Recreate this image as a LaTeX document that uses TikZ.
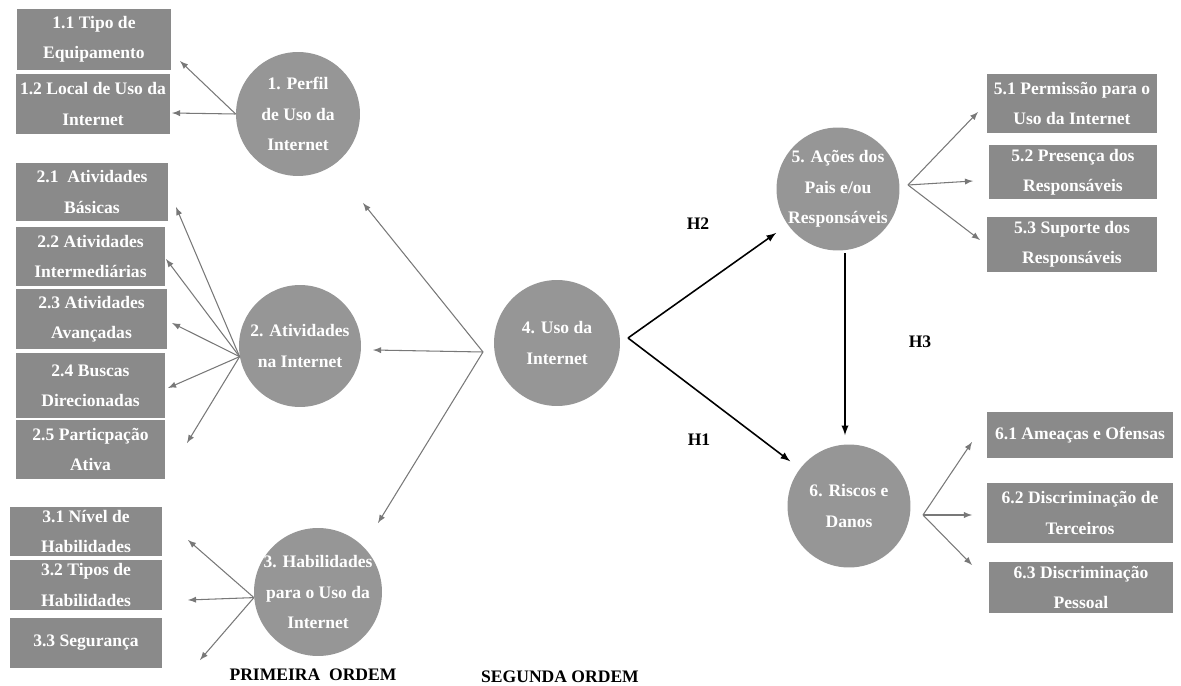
\documentclass[tikz,border=0pt]{standalone}
\usepackage{fontspec}
\setmainfont{Liberation Serif}
\usetikzlibrary{positioning}
\definecolor{boxgray}{RGB}{138,138,138}
\definecolor{bubgray}{RGB}{150,150,150}
\definecolor{arrgray}{RGB}{120,120,120}
\tikzset{every picture/.style={x=0.02cm,y=-0.02cm},
  box/.style={rectangle, fill=boxgray, text=white, inner sep=0pt, align=center,
    font=\bfseries\fontsize{10}{17.3}\selectfont},
  bub/.style={circle, fill=bubgray, inner sep=0pt},
  btxt/.style={text=white, align=center, font=\bfseries\fontsize{10}{17.3}\selectfont},
  sub/.style={arrgray, line width=0.6pt, -latex},
  hyp/.style={black, line width=0.9pt, -latex},
  lab/.style={font=\bfseries\fontsize{10}{12}\selectfont}}
\begin{document}
\begin{tikzpicture}
\useasboundingbox (0,0) rectangle (1181,686);

% first order boxes
\node (b11) [box, minimum width=3.08cm, minimum height=1.22cm] at (94,39.5) {1.1 Tipo de\\Equipamento};
\node (b12) [box, minimum width=3.08cm, minimum height=1.2cm] at (93,104) {1.2 Local de Uso da\\Internet};
\node (b21) [box, minimum width=3.04cm, minimum height=1.16cm] at (92,192) {2.1\ \ Atividades\\B\'asicas};
\node (b22) [box, minimum width=2.98cm, minimum height=1.18cm] at (90.5,256.5) {2.2 Atividades\\Intermedi\'arias};
\node (b23) [box, minimum width=3.02cm, minimum height=1.2cm] at (91.5,319) {2.3 Atividades\\Avan\c{c}adas};
\node (b24) [box, minimum width=2.98cm, minimum height=1.3cm] at (90.5,385.5) {2.4 Buscas\\Direcionadas};
\node (b25) [box, minimum width=2.98cm, minimum height=1.18cm] at (90.5,449.5) {2.5 Particpa\c{c}\~ao\\Ativa};
\node (b31) [box, minimum width=3.04cm, minimum height=0.98cm] at (86,531.5) {3.1 N\'ivel de\\Habilidades};
\node (b32) [box, minimum width=3.04cm, minimum height=1cm] at (86,585) {3.2 Tipos de\\Habilidades};
\node (b33) [box, minimum width=3.04cm, minimum height=1cm] at (86,643) {3.3 Seguran\c{c}a};

% right boxes
\node (b51) [box, minimum width=3.4cm, minimum height=1.18cm] at (1072,103.5) {5.1 Permiss\~ao para o\\Uso da Internet};
\node (b52) [box, minimum width=3.36cm, minimum height=1.08cm] at (1073,172) {5.2 Presen\c{c}a dos\\Respons\'aveis};
\node (b53) [box, minimum width=3.4cm, minimum height=1.1cm] at (1072,244.5) {5.3 Suporte dos\\Respons\'aveis};
\node (b61) [box, minimum width=3.72cm, minimum height=0.92cm] at (1080,435) {6.1 Amea\c{c}as e Ofensas};
\node (b62) [box, minimum width=3.72cm, minimum height=1.2cm] at (1080,513) {6.2 Discrimina\c{c}\~ao de\\Terceiros};
\node (b63) [box, minimum width=3.68cm, minimum height=1.02cm] at (1081,587.5) {6.3 Discrimina\c{c}\~ao\\Pessoal};

% constructs
\node (c1) [bub, minimum size=2.48cm, label={[btxt]center:{1. Perfil\\de Uso da\\Internet}}] at (298,114) {};
\node (c2) [bub, minimum size=2.44cm, label={[btxt]center:{2. Atividades\\na Internet}}] at (300,346) {};
\node (c3) [bub, minimum size=2.56cm, label={[btxt]center:{3. Habilidades\\para o Uso da\\Internet}}] at (318,592) {};
\node (c4) [bub, minimum size=2.52cm, label={[btxt]center:{4. Uso da\\Internet}}] at (557,343) {};
\node (c5) [bub, minimum size=2.46cm, label={[btxt]center:{5. A\c{c}\~oes dos\\Pais e/ou\\Respons\'aveis}}] at (838,189) {};
\node (c6) [bub, minimum size=2.46cm, label={[btxt]center:{6. Riscos e\\Danos}}] at (849,506) {};

% arrow ends
\foreach \n/\x/\y in {11/180/61, 12/172/113, 21/176/207, 22/166/259, 23/172/323,
  24/168/388, 25/187/443, 1/363/203, 2/373/350, 3/378/523, 31/188/540,
  32/188/600, 33/200/660, 51/978/112, 52/973/181, 53/980/240,
  61/972/442, 62/972/515, 63/972/565}
  \coordinate (t\n) at (\x,\y);
\coordinate (hubL) at (483,352);
\coordinate (hubR) at (628,338);
\coordinate (s5) at (908,185);
\coordinate (s6) at (923,515);
\coordinate (v5) at (845,253);

\foreach \n in {11,12} \draw[sub] (c1.west) -- (t\n);
\foreach \n in {21,22,23,24,25} \draw[sub] (c2.190) -- (t\n);
\foreach \n in {1,2,3} \draw[sub] (hubL) -- (t\n);
\foreach \n in {31,32,33} \draw[sub] (c3.185) -- (t\n);
\foreach \n in {51,52,53} \draw[sub] (s5) -- (t\n);
\foreach \n in {61,62,63} \draw[sub] (s6) -- (t\n);

% hypotheses
\draw[hyp, shorten >=0.28cm] (hubR) -- (c5);
\draw[hyp, shorten >=0.24cm] (hubR) -- (c6);
\draw[hyp, shorten >=0.18cm] (v5) -- (v5 |- c6.north);
\node (h2) [lab] at (698,224) {H2};
\node (h1) [lab] at (699,440) {H1};
\node (h3) [lab] at (920,342) {H3};

\node (ord1) [lab] at (313,675) {PRIMEIRA\ \ ORDEM};
\node (ord2) [lab] at (560,677) {SEGUNDA ORDEM};
\end{tikzpicture}
\end{document}
